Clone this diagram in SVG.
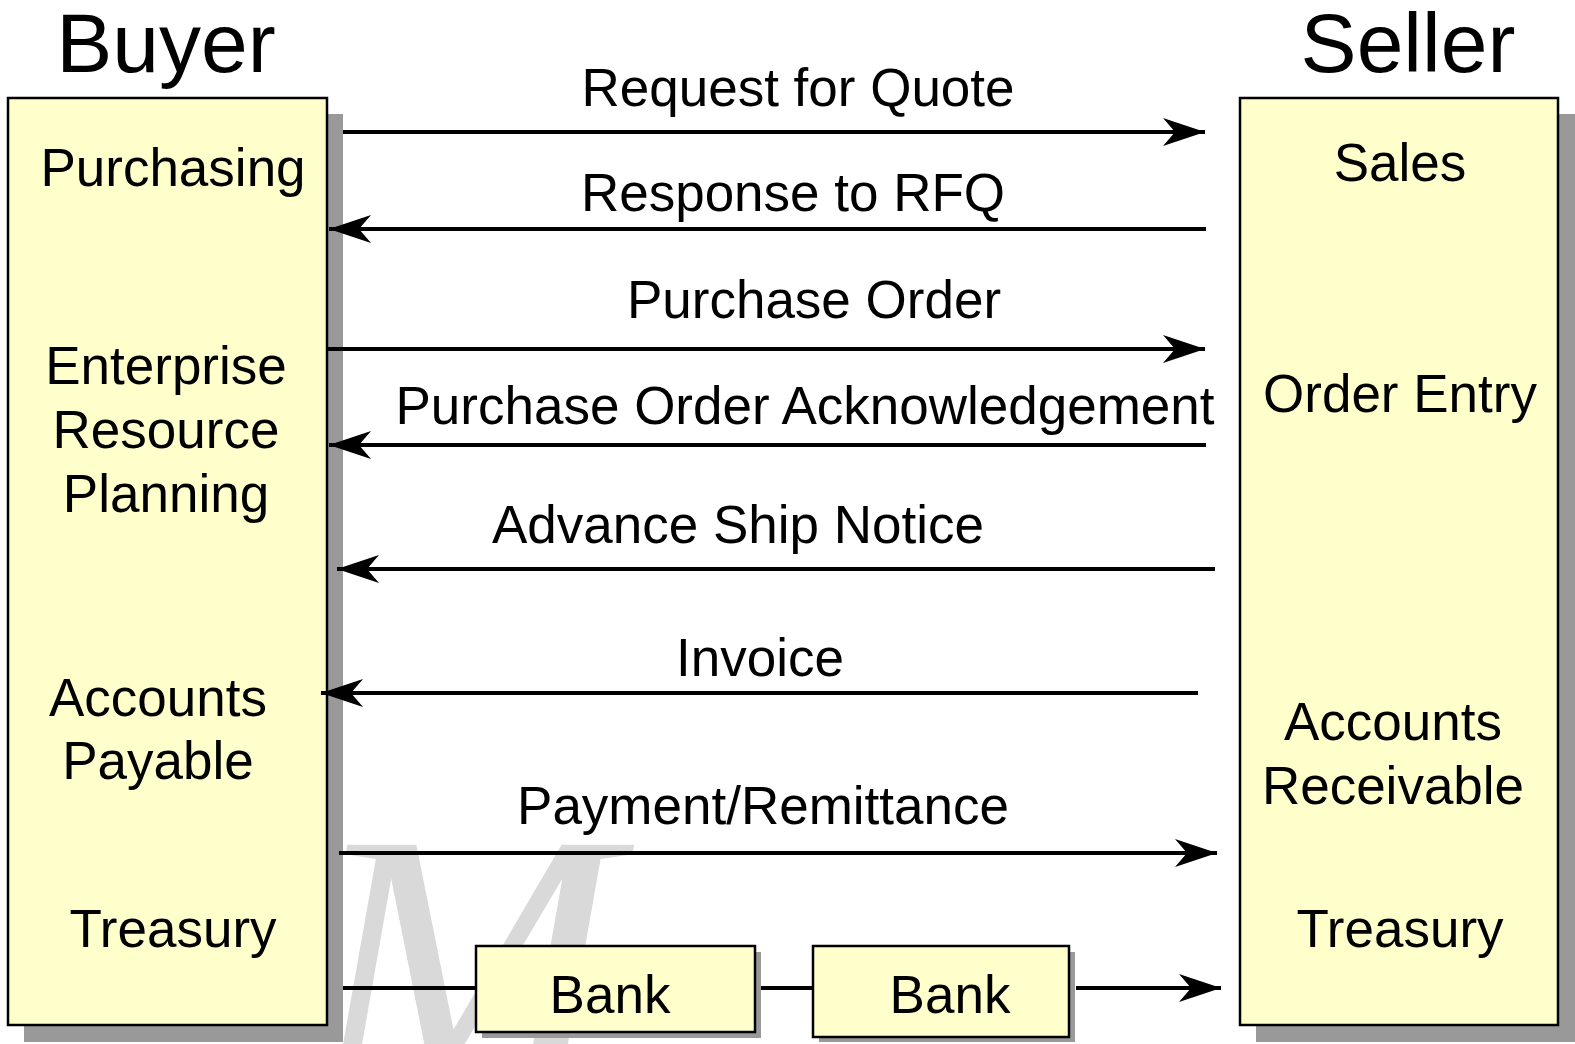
<svg xmlns="http://www.w3.org/2000/svg" width="1575" height="1044" viewBox="0 0 1575 1044">
<style>
  .box { fill: #FFFFCC; stroke: #000; stroke-width: 2.5; }
  .shadow { fill: #999999; }
  .lbl { font-family: "Liberation Sans", Arial, sans-serif; font-size: 53px; fill: #000; text-anchor: middle; }
  .title { font-family: "Liberation Sans", Arial, sans-serif; font-size: 84px; fill: #000; text-anchor: middle; }
  .conn { stroke: #000; stroke-width: 4; fill: none; }
  .wm { font-family: "Liberation Serif", "Times New Roman", serif; font-size: 370px; fill: #d9d9d9; font-style: italic; }
</style>
<defs>
  <marker id="arr" markerUnits="userSpaceOnUse" markerWidth="44" markerHeight="30" refX="42" refY="14" orient="auto" viewBox="0 0 44 30">
    <path d="M0,0 L42,14 L0,28 L12,14 Z" fill="#000"/>
  </marker>
</defs>
<rect width="1575" height="1044" fill="#fff"/>
<text class="wm" x="309" y="1087">M</text>

<text class="title" x="166" y="72">Buyer</text>
<text class="title" x="1408" y="72">Seller</text>

<g id="buyer">
  <rect class="shadow" x="24" y="114" width="319" height="928"/>
  <rect class="box" x="8" y="98" width="319" height="927"/>
  <text class="lbl" x="173" y="186">Purchasing</text>
  <text class="lbl" x="166" y="384">Enterprise</text>
  <text class="lbl" x="166" y="448">Resource</text>
  <text class="lbl" x="166" y="512">Planning</text>
  <text class="lbl" x="158" y="716">Accounts</text>
  <text class="lbl" x="158" y="779">Payable</text>
  <text class="lbl" x="173" y="947">Treasury</text>
</g>

<g id="seller">
  <rect class="shadow" x="1256" y="114" width="319" height="928"/>
  <rect class="box" x="1240" y="98" width="318" height="927"/>
  <text class="lbl" x="1400" y="181">Sales</text>
  <text class="lbl" x="1400" y="412">Order Entry</text>
  <text class="lbl" x="1393" y="740">Accounts</text>
  <text class="lbl" x="1393" y="804">Receivable</text>
  <text class="lbl" x="1400" y="947">Treasury</text>
</g>

<g id="bank1">
  <rect class="shadow" x="482" y="952" width="279" height="86"/>
  <rect class="box" x="476" y="946" width="279" height="86"/>
  <text class="lbl" x="610" y="1013">Bank</text>
</g>

<g id="bank2">
  <rect class="shadow" x="819" y="952" width="256" height="90"/>
  <rect class="box" x="813" y="946" width="256" height="91"/>
  <text class="lbl" x="950" y="1013">Bank</text>
</g>

<g id="connectors">
  <line class="conn" x1="343" y1="132" x2="1205" y2="132" marker-end="url(#arr)"/>
  <text class="lbl" x="798" y="106">Request for Quote</text>

  <line class="conn" x1="1206" y1="229" x2="329" y2="229" marker-end="url(#arr)"/>
  <text class="lbl" x="793" y="211">Response to RFQ</text>

  <line class="conn" x1="327" y1="349" x2="1205" y2="349" marker-end="url(#arr)"/>
  <text class="lbl" x="814" y="318">Purchase Order</text>

  <line class="conn" x1="1206" y1="445" x2="329" y2="445" marker-end="url(#arr)"/>
  <text class="lbl" x="805" y="424">Purchase Order Acknowledgement</text>

  <line class="conn" x1="1215" y1="569" x2="337" y2="569" marker-end="url(#arr)"/>
  <text class="lbl" x="738" y="543">Advance Ship Notice</text>

  <line class="conn" x1="1198" y1="693" x2="321" y2="693" marker-end="url(#arr)"/>
  <text class="lbl" x="760" y="676">Invoice</text>

  <line class="conn" x1="339" y1="853" x2="1217" y2="853" marker-end="url(#arr)"/>
  <text class="lbl" x="763" y="824">Payment/Remittance</text>

  <line class="conn" x1="343" y1="988" x2="476" y2="988"/>
  <line class="conn" x1="761" y1="988" x2="813" y2="988"/>
  <line class="conn" x1="1076" y1="988" x2="1221" y2="988" marker-end="url(#arr)"/>
</g>
</svg>
